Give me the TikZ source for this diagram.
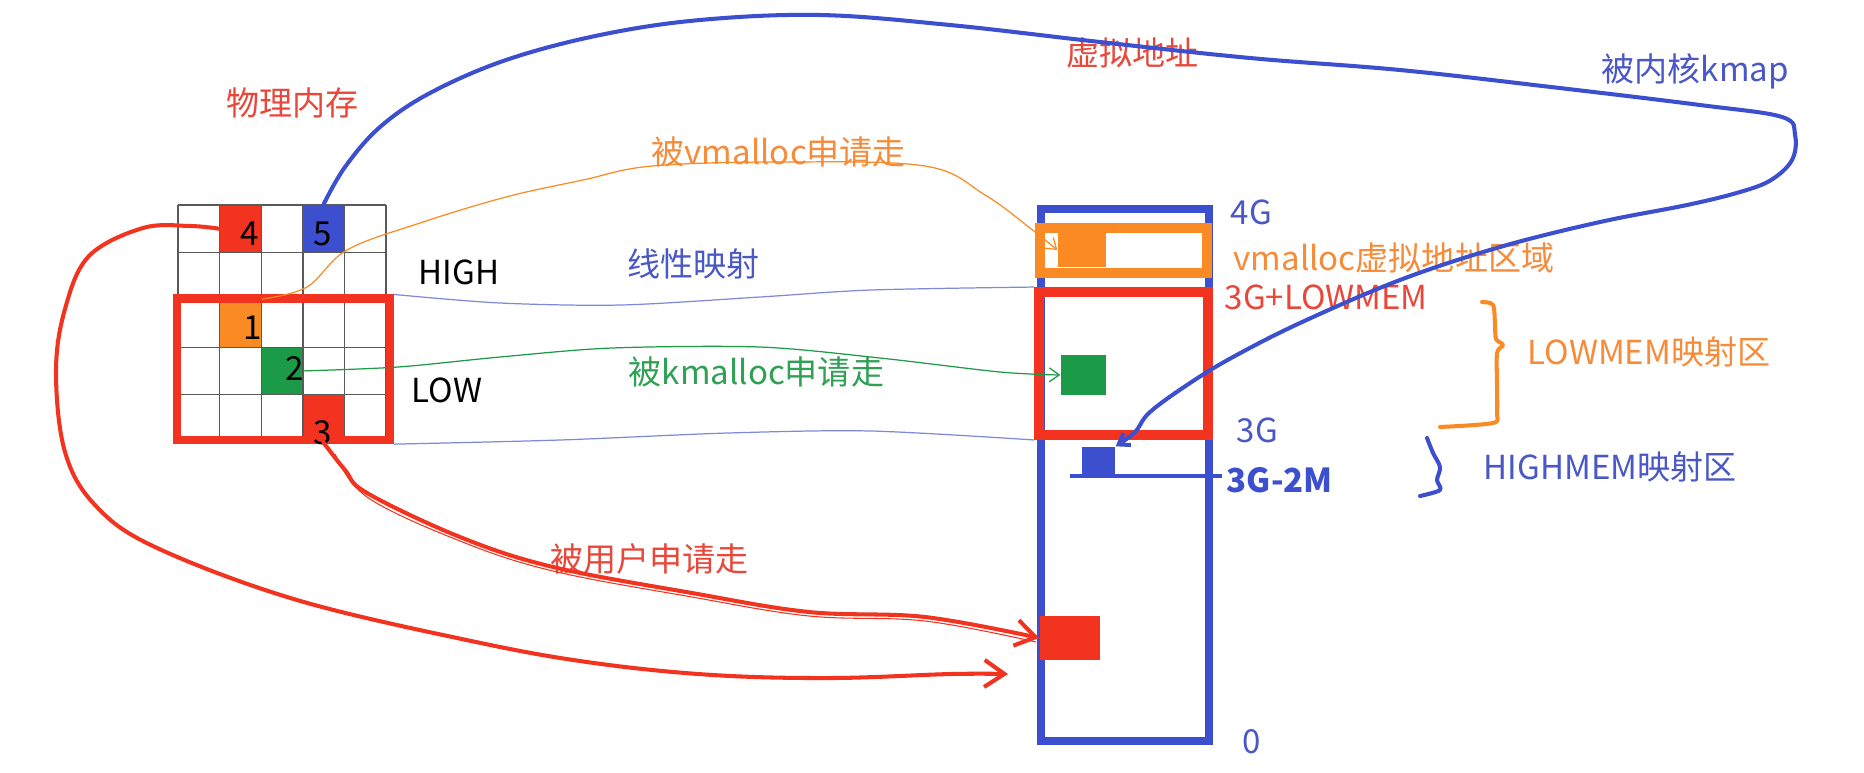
\documentclass[tikz,border=0pt]{standalone}
\usepackage{fontspec}
\setmainfont{Noto Sans CJK SC}
\usepackage{xcolor}
\usepackage{tikz}
\usetikzlibrary{arrows.meta}
\definecolor{memred}{HTML}{F2331F}
\definecolor{memblue}{HTML}{3B4FCF}
\definecolor{memorange}{HTML}{FA8A24}
\definecolor{memgreen}{HTML}{1B9A47}
\definecolor{txtred}{HTML}{E8473A}
\definecolor{txtblue}{HTML}{4A58C6}
\definecolor{txtorange}{HTML}{F68B3A}
\definecolor{txtgreen}{HTML}{2FA054}
\definecolor{thinblue}{HTML}{7F89D8}
\definecolor{gridgray}{HTML}{5A5A5A}
\newcommand{\lblsize}{\fontsize{9.4pt}{11pt}\selectfont}

\begin{document}
\begin{tikzpicture}[x=0.01cm, y=-0.01cm,
    lbl/.style={inner sep=0pt, anchor=west, font=\lblsize},
    num/.style={inner sep=0pt, font=\fontsize{9.4pt}{10pt}\selectfont},
    cell/.style={inner sep=0pt, minimum width=0.416cm, minimum height=0.474cm},
    memblk/.style={inner sep=0pt, draw=none},
    gridln/.style={draw=gridgray, line width=0.4pt},
    thinln/.style={line width=0.35pt},
    handln/.style={line width=1.15pt, line cap=round, line join=round},
    barb/.style={-{Straight Barb[length=0.1cm, width=0.14cm]}}]
\useasboundingbox[fill=white] (0,0) rectangle (1864,772);

% physical memory grid
\node[cell, fill=memred] (c4) at (240.4,228.7) {};
\node[cell, fill=memblue] (c5) at (323.6,228.7) {};
\node[cell, fill=memorange] (c1) at (240.4,323.5) {};
\node[cell, fill=memgreen] (c2) at (282,370.9) {};
\node[cell, fill=memred] (c3) at (323.6,418.3) {};
\foreach \i in {0,...,5} {
  \draw[gridln] (178+41.6*\i,205) -- (178+41.6*\i,442);
  \draw[gridln] (178,205+47.4*\i) -- (386,205+47.4*\i);
}
\node[draw=memred, line width=2.3pt, inner sep=0pt, minimum width=2.13cm,
      minimum height=1.415cm] (lowbox) at (283.5,369.3) {};
\node[num] (n4) at (250,234) {4};
\node[num] (n5) at (323,234) {5};
\node[num] (n1) at (253,328) {1};
\node[num] (n2) at (295,368) {2};
\node[num] (n3) at (323,433) {3};

% virtual address column
\node[draw=memblue, line width=2.3pt, inner sep=0pt, minimum width=1.68cm,
      minimum height=5.32cm] (vcol) at (1125,475) {};
\node[draw=memorange, line width=2.6pt, inner sep=0pt, minimum width=1.67cm,
      minimum height=0.45cm] (vmbox) at (1123.5,250.5) {};
\node[draw=memred, line width=2.8pt, inner sep=0pt, minimum width=1.69cm,
      minimum height=1.43cm] (lmbox) at (1123.5,363.5) {};
\node[memblk, fill=memorange, minimum width=0.48cm, minimum height=0.34cm] (vblk) at (1082,250) {};
\node[memblk, fill=memgreen, minimum width=0.45cm, minimum height=0.40cm] (kblk) at (1083.5,375) {};
\node[memblk, fill=memblue, minimum width=0.33cm, minimum height=0.30cm] (hmblk) at (1098.5,462) {};
\node[memblk, fill=memred, minimum width=0.60cm, minimum height=0.44cm] (ublk) at (1070,638) {};
\draw[memblue, line width=1.4pt] (1070,476) -- (1222,476);

% labels
\node[lbl, text=txtred] (physlbl) at (226,103) {物理内存};
\node[lbl, text=txtred] (virtlbl) at (1066,53) {虚拟地址};
\node[lbl, text=txtblue] (kmaplbl) at (1601,71) {被内核kmap};
\node[lbl, text=txtorange] (vmalloclbl) at (651,152) {被vmalloc申请走};
\node[lbl] (highlbl) at (418,272) {HIGH};
\node[lbl] (lowlbl) at (411,390) {LOW};
\node[lbl, text=txtblue] (linlbl) at (627,264) {线性映射};
\node[lbl, text=txtgreen] (kmalloclbl) at (628,372) {被kmalloc申请走};
\node[lbl, text=txtred] (userlbl) at (550,559) {被用户申请走};
\node[lbl, text=txtblue] (g4lbl) at (1230,212) {4G};
\node[lbl, text=txtorange] (vmarealbl) at (1233,258) {vmalloc虚拟地址区域};
\node[lbl, text=txtred] (g3lowlbl) at (1224,297) {3G+LOWMEM};
\node[lbl, text=txtblue] (g3lbl) at (1236,430) {3G};
\node[lbl, text=memblue, font=\lblsize\bfseries] (g32lbl) at (1226,480) {3G-2M};
\node[lbl, text=txtblue] (zerolbl) at (1242,742) {0};
\node[lbl, text=txtorange] (lowmemlbl) at (1527,352) {LOWMEM映射区};
\node[lbl, text=txtblue] (highmemlbl) at (1483,467) {HIGHMEM映射区};

% braces
\draw[memorange, handln] plot[smooth, tension=0.5] coordinates {(1482,302) (1493,305)
  (1495,325) (1496,339) (1503,345) (1497,353) (1497,385) (1497,413) (1493,423) (1440,427)};
\draw[memblue, handln] plot[smooth, tension=0.5] coordinates {(1427,438) (1433,453)
  (1440,467) (1437,480) (1440,490) (1420,496)};

% linear mapping
\draw[thinblue, thinln] plot[smooth] coordinates {(lowbox.north east) (500,303) (621,305)
  (760,297) (871,290) (lmbox.north west)};
\draw[thinblue, thinln] plot[smooth] coordinates {(lowbox.south east) (560,440) (728,433)
  (871,431) (lmbox.south west)};

% allocations
\draw[memorange, thinln, barb] plot[smooth, tension=0.6] coordinates {(c1.north east)
  (307,287) (347,250) (420,223) (506,197) (583,180) (652,166) (780,162) (925,166)
  (985,195) (1030,228) (vblk.west)};
\draw[memgreen, thinln, barb] plot[smooth, tension=0.5] coordinates {(c2.east)
  (398,367) (500,357) (612,348) (760,347) (880,358) (1000,372) (kblk.west)};
\draw[memblue, handln, barb] plot[smooth, tension=0.6] coordinates {(c5.north)
  (345,167) (380,127) (430,93) (506,60) (600,35) (700,20) (820,15) (950,25) (1100,42)
  (1250,58) (1400,70) (1551,87) (1700,105) (1782,117) (1795,135) (1792,160) (1771,180)
  (1740,192) (1687,205) (1600,222) (1500,247) (1400,280) (1300,323) (1233,357)
  (1190,383) (1150,412) (1135,432) (hmblk.north east)};
\draw[memred, handln, -{Straight Barb[length=0.2cm, width=0.26cm]}] plot[smooth, tension=0.6]
  coordinates {(c3.south) (345,470) (367,493) (460,537) (553,567) (692,593) (809,612)
  (925,617) (ublk.west)};
\draw[memred, line width=0.3pt, yshift=-0.04cm] plot[smooth, tension=0.6]
  coordinates {(335,450) (367,493) (460,537) (553,567) (692,593) (809,612) (925,617)
  (1036,638)};
\coordinate (loopend) at (1008,674);
\draw[memred, handln, -{Straight Barb[length=0.2cm, width=0.27cm]}] plot[smooth, tension=0.6]
  coordinates {(c4.west) (190,226) (143,228) (89,256) (65,309) (56,372) (65,452) (95,505)
  (155,547) (297,600) (476,642) (594,663) (713,675) (832,678) (951,674) (loopend)};
\end{tikzpicture}
\end{document}
